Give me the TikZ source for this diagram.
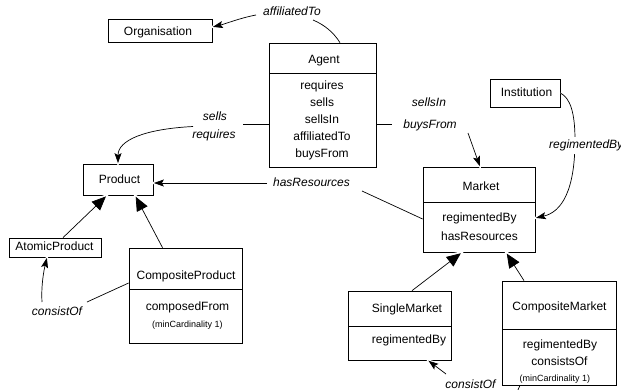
\documentclass[tikz,border=0pt]{standalone}
\usepackage{fontspec}
\setmainfont{Liberation Sans}
\usetikzlibrary{arrows.meta,calc}
\tikzset{
  boxs/.style={draw=black, line width=0.75pt, inner sep=0pt},
  txt/.style={inner sep=0pt, font=\fontsize{12}{14}\selectfont, text height=8.6pt, text depth=2.5pt},
  smalltxt/.style={inner sep=0pt, font=\fontsize{9}{11}\selectfont, text height=6.5pt, text depth=1.9pt},
  lbl/.style={inner sep=0pt, font=\fontsize{12}{14}\selectfont\itshape, text height=8.6pt, text depth=2.5pt},
  conn/.style={draw=black, line width=0.7pt},
  assoc/.style={draw=black, line width=0.7pt, shorten >=0.5pt, -{Stealth[length=10pt,width=7pt,inset=2pt]},
    preaction={draw=white, line width=0.7pt, shorten >=-3pt, -{Stealth[length=10pt,width=7pt,inset=2pt,line width=2.5pt,color=white,fill=white]}}},
  gen/.style={draw=black, line width=0.7pt, shorten >=1.5pt, -{Triangle[length=14pt,width=12pt]},
    preaction={draw=white, line width=0.7pt, shorten >=-3pt, -{Triangle[length=14pt,width=12pt,line width=3pt,color=white,fill=white]}}},
}
\begin{document}
\begin{tikzpicture}[x=1pt,y=-1pt]
\useasboundingbox (0,0) rectangle (621,389);
% boxes
\node[boxs, minimum width=104pt, minimum height=23pt] (org) at (160,30.5) {};
\node[boxs, minimum width=107pt, minimum height=30pt] (agentH) at (322.5,58) {};
\node[boxs, minimum width=107pt, minimum height=94pt] (agentB) at (322.5,120) {};
\node[boxs, minimum width=70pt, minimum height=28pt] (inst) at (525,93) {};
\node[boxs, minimum width=70pt, minimum height=31pt] (product) at (118,179.5) {};
\node[boxs, minimum width=112pt, minimum height=35pt] (mktH) at (479,184.5) {};
\node[boxs, minimum width=112pt, minimum height=50pt] (mktB) at (479,227) {};
\node[boxs, minimum width=92pt, minimum height=19pt] (atom) at (55,247.5) {};
\node[boxs, minimum width=113pt, minimum height=41pt] (cpH) at (185.5,268.5) {};
\node[boxs, minimum width=113pt, minimum height=54pt] (cpB) at (185.5,316) {};
\node[boxs, minimum width=103pt, minimum height=35pt] (smH) at (399.5,308.5) {};
\node[boxs, minimum width=103pt, minimum height=34pt] (smB) at (399.5,343) {};
\node[boxs, minimum width=114pt, minimum height=48pt] (cmH) at (559,305) {};
\node[boxs, minimum width=114pt, minimum height=56pt] (cmB) at (559,357) {};
% texts
\node[txt] (orgT) at (158,32) {Organisation};
\node[txt] (agentT) at (324,60) {Agent};
\node[txt] (a1) at (322,86) {requires};
\node[txt] (a2) at (322,103.5) {sells};
\node[txt] (a3) at (322,120.5) {sellsIn};
\node[txt] (a4) at (322,137) {affiliatedTo};
\node[txt] (a5) at (322,154) {buysFrom};
\node[txt] (instT) at (526.5,93.5) {Institution};
\node[txt] (prodT) at (119.5,180.5) {Product};
\node[txt] (mktT) at (481,187.5) {Market};
\node[txt] (m1) at (479.5,218.5) {regimentedBy};
\node[txt] (m2) at (479.5,237.5) {hasResources};
\node[txt] (atomT) at (54.5,247.5) {AtomicProduct};
\node[txt] (cpT) at (186,276.5) {CompositeProduct};
\node[txt] (cp1) at (187.5,307.5) {composedFrom};
\node[smalltxt] (cp2) at (187.5,325) {(minCardinality 1)};
\node[txt] (smT) at (407,309.5) {SingleMarket};
\node[txt] (sm1) at (409,340.5) {regimentedBy};
\node[txt] (cmT) at (559.5,307.5) {CompositeMarket};
\node[txt] (cm1) at (560,345.5) {regimentedBy};
\node[txt] (cm2) at (559.5,362.5) {consistsOf};
\node[smalltxt] (cm3) at (555,379.5) {(minCardinality 1)};
% labels
\node[lbl] (affL) at (292,12.5) {affiliatedTo};
\node[lbl] (sellsL) at (215,117.5) {sells};
\node[lbl] (reqL) at (214,135.5) {requires};
\node[lbl] (sellsInL) at (429,103.5) {sellsIn};
\node[lbl] (buysL) at (430,125.5) {buysFrom};
\node[lbl] (hasL) at (311.5,183.5) {hasResources};
\node[lbl] (consL) at (57,312.5) {consistOf};
\node[lbl, anchor=base] (cons2L) at (470.5,388.5) {consistOf};
% free ends
\coordinate (cAffA) at (256,15);
\coordinate (cAffB) at (313,20);
\coordinate (cS1) at (243,124);
\coordinate (cS2) at (193,126.5);
\coordinate (cB1) at (392,124);
\coordinate (cB2) at (468,133);
\coordinate (cH1) at (362,191);
\coordinate (cH2) at (267,183);
\coordinate (cC1) at (42,302);
\coordinate (cC2) at (87,302);
\coordinate (cD1) at (446,374);
\coordinate (cD2) at (517,392);
% connectors
\draw[assoc] (cAffA) .. controls (240,18) and (225,24) .. ($(org.east)+(0,-3.5)$);
\draw[conn] (cAffB) .. controls (325,25) and (334,33) .. ($(agentH.north)+(17.5,0)$);
\draw[conn] ($(agentB.west)+(0,4)$) -- (cS1);
\draw[assoc] (cS2) .. controls (145,129) and (118,140) .. (product.north);
\draw[conn] ($(agentB.east)+(0,4)$) -- (cB1);
\draw[assoc] (cB2) -- ($(mktH.north)+(1,0)$);
\draw[conn] ($(mktB.west)+(0,-8)$) -- (cH1);
\draw[assoc] (cH2) -- ($(product.east)+(0,3.5)$);
\draw[assoc] (inst.east) .. controls (570,98) and (575,112) .. (575,140)
  .. controls (575,190) and (562,212) .. ($(mktB.east)+(0,-9)$);
\node[lbl, anchor=west, fill=white, inner xsep=1pt, inner ysep=3pt] (regL) at (548,145.5) {regimentedBy};
\draw[assoc] (cC1) .. controls (41,285) and (44,270) .. ($(atom.south)+(-8,0)$);
\draw[conn] (cC2) -- ($(cpH.west)+(0,14.5)$);
\draw[assoc] (cD1) -- ($(smB.south)+(28.5,0)$);
\draw[conn] (cD2) -- ($(cmB.south)+(-39,0)$);
% generalisations
\draw[gen] ($(atom.north)+(8,0)$) -- ($(product.south)+(-11,0)$);
\draw[gen] ($(cpH.north)+(-23,0)$) -- ($(product.south)+(17,0)$);
\draw[gen] ($(smH.north)+(12.5,0)$) -- ($(mktB.south)+(-17,0)$);
\draw[gen] ($(cmH.north)+(-35,0)$) -- ($(mktB.south)+(27,0)$);
\end{tikzpicture}
\end{document}
